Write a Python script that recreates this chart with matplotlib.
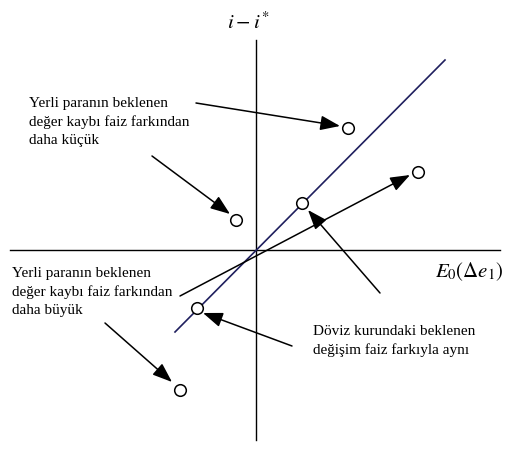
import matplotlib.pyplot as plt

# coordinates: origin at the axes crossing, x to the right, y up (units ~ pixels)
circle_x = [92, -20, 46, -59, -76, 162]
circle_y = [122, 30, 47, -58, -140, 78]

line45_x = [-81, 189]
line45_y = [-82, 190]
flat_x = [-76, 154]
flat_y = [-46, 75]

# arrows: (start_x, start_y, tip_x, tip_y)
arrow_start_x = [-60, -104, 124, 36, -151]
arrow_start_y = [147, 94, -43, -96, -73]
arrow_tip_x = [84, -26, 52, -53, -84]
arrow_tip_y = [124, 36, 40, -63, -132]

labels = [
    "Yerli paranın beklenen\ndeğer kaybı faiz farkından\ndaha küçük",
    "Yerli paranın beklenen\ndeğer kaybı faiz farkından\ndaha büyük",
    "Döviz kurundaki beklenen\ndeğişim faiz farkıyla aynı",
]
label_x = [-227, -244, 57]
label_y = [153, -17, -75]

plt.rcParams["mathtext.fontset"] = "stix"

fig = plt.figure(figsize=(5.06, 4.62), dpi=100)
ax = fig.add_axes([0, 0, 1, 1])
ax.set_xlim(-256, 250)
ax.set_ylim(-212, 250)
ax.axis("off")

# axes
ax.plot([-246, 244], [0, 0], color="black", lw=1)
ax.plot([0, 0], [-190, 210], color="black", lw=1)
ax.text(-8, 228, r"$i-i^{*}$", fontsize=15, ha="center", va="center")
ax.text(213, -22, r"$E_0(\Delta e_1)$", fontsize=15, ha="center", va="center")

arrow_kw = dict(arrowstyle="-|>,head_length=0.8,head_width=0.3",
                mutation_scale=15, lw=1.1, color="black", shrinkA=0, shrinkB=0)

# lines
ax.plot(line45_x, line45_y, color="#1f1f5e", lw=1.2)
ax.annotate("", xy=(flat_x[1], flat_y[1]), xytext=(flat_x[0], flat_y[0]),
            arrowprops=arrow_kw)

for sx, sy, tx, ty in zip(arrow_start_x, arrow_start_y, arrow_tip_x, arrow_tip_y):
    ax.annotate("", xy=(tx, ty), xytext=(sx, sy), arrowprops=arrow_kw)

ax.scatter(circle_x, circle_y, s=70, facecolor="white", edgecolor="black",
           linewidth=1.1, zorder=5)

for txt, x, y in zip(labels, label_x, label_y):
    ax.text(x, y, txt, fontsize=11, family="Liberation Serif", ha="left",
            va="top", linespacing=1.5)

fig.savefig("out.png", dpi=100)
